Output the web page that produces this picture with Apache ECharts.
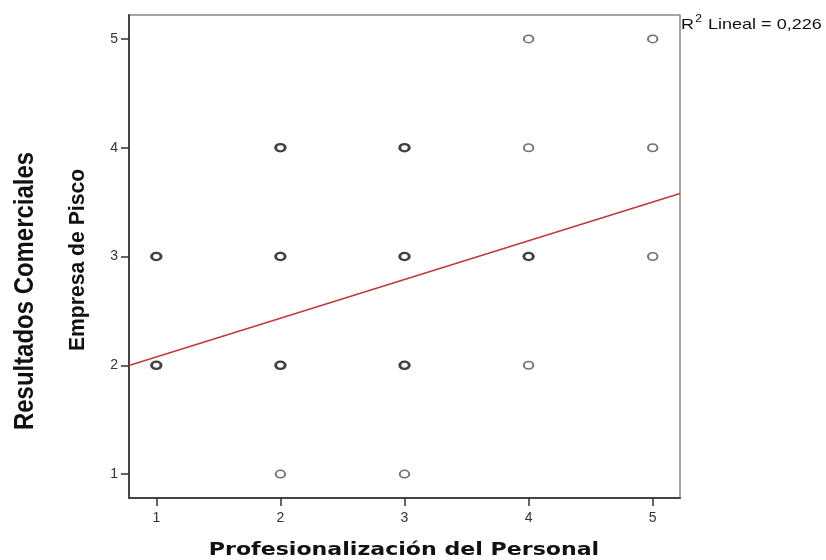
<!DOCTYPE html>
<html>
<head>
<meta charset="utf-8">
<script src="https://cdn.jsdelivr.net/npm/echarts@6/dist/echarts.min.js"></script>
<style>
  html, body { margin: 0; padding: 0; background: #fff; }
  #chart { width: 826px; height: 560px; }
</style>
</head>
<body>
<div id="chart"></div>
<script>
// Observations: professionalisation score (x), commercial result score (y),
// and how many respondents share that exact pair.
const profesionalizacion = [1, 1, 2, 2, 2, 2, 3, 3, 3, 3, 4, 4, 4, 4, 5, 5, 5];
const resultados         = [2, 3, 1, 2, 3, 4, 1, 2, 3, 4, 2, 3, 4, 5, 3, 4, 5];
const frecuencia         = [3, 2, 1, 3, 3, 2, 1, 2, 3, 2, 1, 2, 1, 1, 1, 1, 1];

// Linear fit reported with the chart
const intercepto = 1.72;
const pendiente = 0.356;
const r2Texto = '0,226';

const tickValues = [1, 2, 3, 4, 5];
const axisMin = 0.78;
const axisMax = 5.22;

const single = [];
const repeated = [];
profesionalizacion.forEach((x, i) => {
  const pt = [x, resultados[i], frecuencia[i]];
  (frecuencia[i] > 1 ? repeated : single).push(pt);
});

const fitLine = [axisMin, axisMax].map(x => [x, intercepto + pendiente * x]);

const chart = echarts.init(document.getElementById('chart'), null, { renderer: 'canvas' });

const axisCommon = {
  type: 'value',
  min: axisMin,
  max: axisMax,
  splitLine: { show: false },
  axisLine: { show: true, onZero: false, lineStyle: { color: '#444', width: 2 } },
  axisTick: { show: true, customValues: tickValues, length: 8, lineStyle: { color: '#333', width: 1.5 } },
  axisLabel: {
    customValues: tickValues,
    color: '#333',
    fontFamily: 'Liberation Sans, Arial, sans-serif',
    fontSize: 14
  }
};

chart.setOption({
  backgroundColor: '#fff',
  animation: false,
  grid: {
    left: 129, right: 146, top: 15, bottom: 62,
    show: true, borderColor: '#888', borderWidth: 1.5, backgroundColor: '#fff'
  },
  xAxis: Object.assign({}, axisCommon, {
    axisLabel: Object.assign({}, axisCommon.axisLabel, { margin: 13 })
  }),
  yAxis: Object.assign({}, axisCommon, {
    axisLabel: Object.assign({}, axisCommon.axisLabel, { margin: 11 })
  }),
  graphic: [
    {
      type: 'text',
      x: 404, y: 551,
      scaleX: 1.3,
      style: {
        text: 'Profesionalización del Personal',
        fontFamily: 'DejaVu Sans, Verdana, sans-serif',
        fontWeight: 'bold',
        fontSize: 17,
        fill: '#111',
        align: 'center',
        verticalAlign: 'middle'
      }
    },
    {
      type: 'text',
      x: 25, y: 291,
      rotation: Math.PI / 2,
      scaleX: 0.855,
      style: {
        text: 'Resultados Comerciales',
        fontFamily: 'Liberation Sans, Arial, sans-serif',
        fontWeight: 'bold',
        fontSize: 28,
        fill: '#111',
        align: 'center',
        verticalAlign: 'middle'
      }
    },
    {
      type: 'text',
      x: 78, y: 260,
      rotation: Math.PI / 2,
      scaleX: 0.94,
      style: {
        text: 'Empresa de Pisco',
        fontFamily: 'Liberation Sans, Arial, sans-serif',
        fontWeight: 'bold',
        fontSize: 22.5,
        fill: '#111',
        align: 'center',
        verticalAlign: 'middle'
      }
    },
    {
      type: 'text',
      x: 681, y: 14,
      scaleX: 1.2,
      style: {
        text: '{b|R}{s|2}{b| Lineal = ' + r2Texto + '}',
        rich: {
          b: { fontFamily: 'Liberation Sans, Arial, sans-serif', fontSize: 15, fill: '#111', verticalAlign: 'bottom', lineHeight: 18 },
          s: { fontFamily: 'Liberation Sans, Arial, sans-serif', fontSize: 10, fill: '#111', verticalAlign: 'top', lineHeight: 18, padding: [0, 1, 7, 1] }
        }
      }
    }
  ],
  series: [
    {
      type: 'line',
      data: fitLine,
      showSymbol: false,
      silent: true,
      lineStyle: { color: '#c0393b', width: 1.6 },
      z: 3
    },
    {
      type: 'scatter',
      data: single,
      symbol: 'circle',
      symbolSize: [9.5, 7.5],
      itemStyle: { color: '#fff', borderColor: '#4d4d4d', borderWidth: 1.7 },
      z: 4
    },
    {
      type: 'scatter',
      data: repeated,
      symbol: 'circle',
      symbolSize: [9.5, 7.2],
      itemStyle: { color: '#fff', borderColor: '#111', borderWidth: 2.6 },
      z: 5
    }
  ]
});
</script>
</body>
</html>
